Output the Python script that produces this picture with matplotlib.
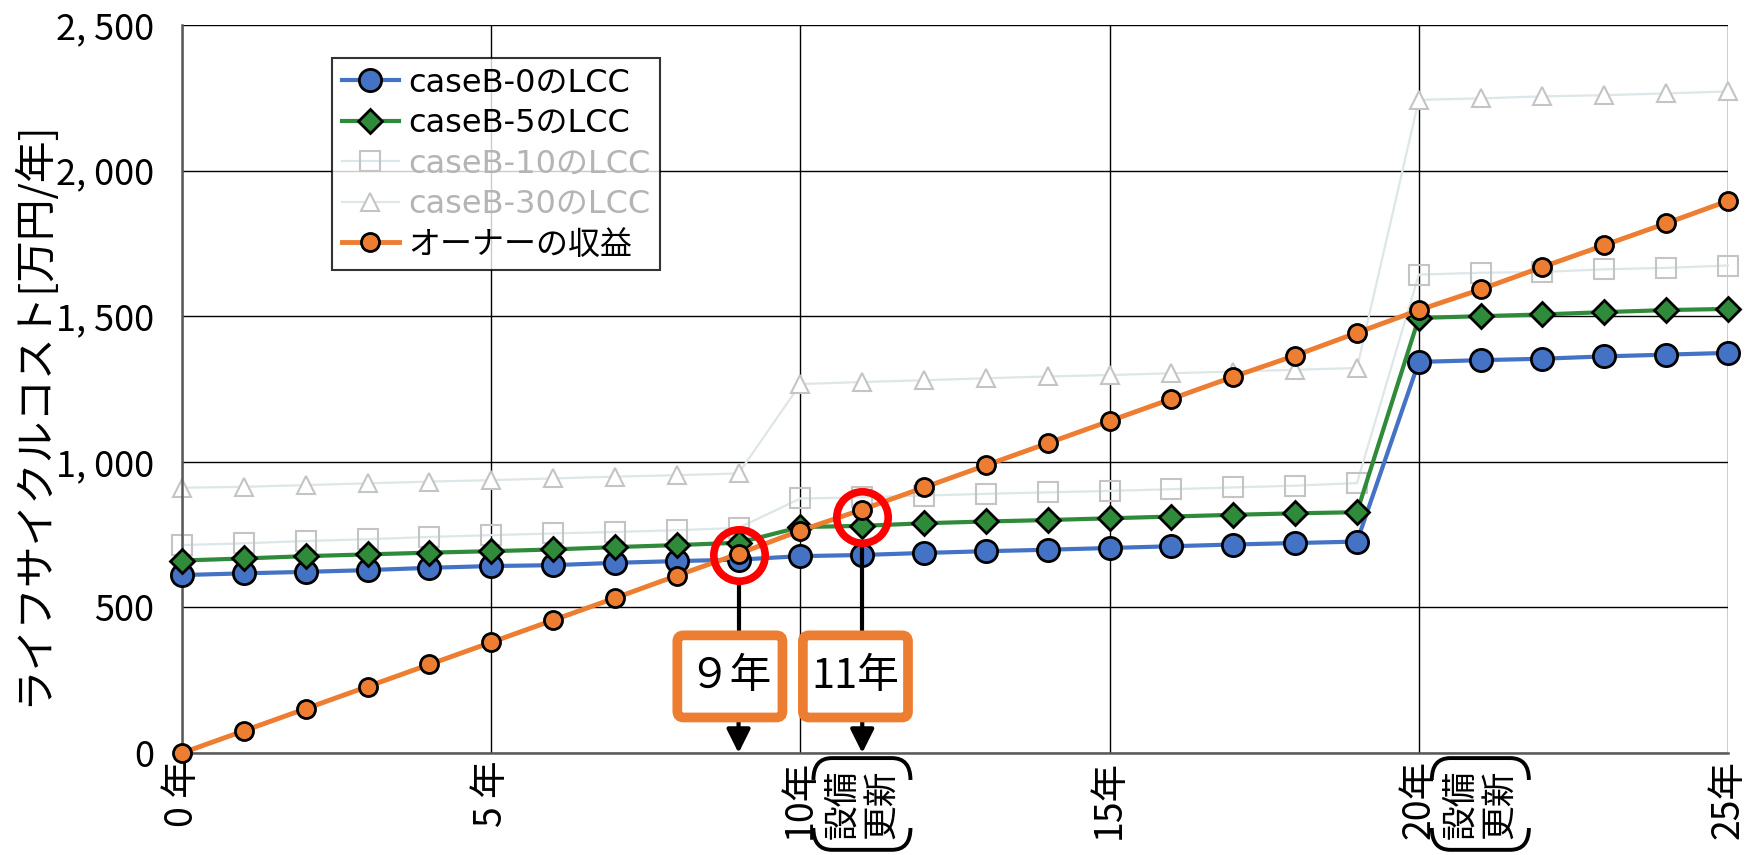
import numpy as np
import matplotlib
matplotlib.use("Agg")
import matplotlib.pyplot as plt
from matplotlib.path import Path
from matplotlib.patches import PathPatch, FancyBboxPatch

plt.rcParams['font.family'] = ['Noto Sans CJK JP', 'DejaVu Sans']

# data
years = list(range(26))
lcc_b0 = [611, 617, 622, 628, 636, 642, 645, 653, 659, 664,
          676, 680, 687, 693, 698, 704, 710, 716, 721, 726,
          1343, 1349, 1354, 1362, 1368, 1374]
lcc_b5 = [661, 668, 676, 682, 688, 693, 699, 707, 714, 722,
          776, 780, 789, 795, 800, 806, 812, 818, 823, 827,
          1494, 1500, 1506, 1514, 1521, 1525]
lcc_b10 = [714, 720, 728, 734, 742, 748, 754, 759, 765, 773,
           874, 878, 884, 890, 895, 900, 906, 912, 918, 927,
           1643, 1649, 1652, 1661, 1666, 1674]
lcc_b30 = [911, 914, 920, 926, 932, 937, 943, 949, 954, 960,
           1267, 1274, 1280, 1287, 1293, 1298, 1304, 1310, 1316, 1322,
           2243, 2248, 2255, 2259, 2265, 2272]
revenue = [0, 76, 152, 228, 304, 380, 456, 532, 609, 684,
           764, 836, 912, 988, 1064, 1140, 1216, 1292, 1365, 1443,
           1521, 1592, 1669, 1744, 1819, 1896]

xticks = [0, 5, 10, 15, 20, 25]
xtick_labels = ['0 年', '5 年', '10年', '15年', '20年', '25年']
yticks = [0, 500, 1000, 1500, 2000, 2500]
ytick_labels = ['0', '500', '1, 000', '1, 500', '2, 000', '2, 500']
renewal_years = [10, 20]

ring_years = [9, 11]
ring_values = [680, 810]
box_x = [8.86, 10.89]
box_labels = ['９年', '11年']

fig = plt.figure(figsize=(17.5, 8.55), dpi=100)
ax = fig.add_axes([182/1750, 1-753/855, 1546/1750, 728/855])

ax.plot(years, lcc_b30, color='#dde6e8', lw=1.6, marker='^', ms=13,
        mfc='white', mec='#c4c4c4', mew=1.5, zorder=2, clip_on=False, label='caseB-30のLCC')
ax.plot(years, lcc_b10, color='#dde6e8', lw=1.6, marker='s', ms=15,
        mfc='none', mec='#c4c4c4', mew=1.5, zorder=2, clip_on=False, label='caseB-10のLCC')
ax.plot(years, lcc_b0, color='#4472C4', lw=3, marker='o', ms=16,
        mfc='#4472C4', mec='black', mew=2, zorder=3, clip_on=False, label='caseB-0のLCC')
ax.plot(years, lcc_b5, color='#2f8a3a', lw=3, marker='D', ms=12,
        mfc='#2f8a3a', mec='black', mew=2, zorder=4, clip_on=False, label='caseB-5のLCC')
ax.plot(years, revenue, color='#ED7D31', lw=3.5, marker='o', ms=13,
        mfc='#ED7D31', mec='black', mew=2, zorder=5, clip_on=False, label='オーナーの収益')

ax.set_xlim(0, 25)
ax.set_ylim(0, 2500)
ax.set_xticks(xticks)
ax.set_xticklabels(xtick_labels, rotation=90, fontsize=27, va='top')
ax.set_yticks(yticks)
ax.set_yticklabels(ytick_labels, fontsize=26)
ax.tick_params(axis='both', length=0)
ax.tick_params(axis='y', pad=20)
ax.tick_params(axis='x', pad=5)
ax.grid(True, color='black', lw=1)
ax.set_axisbelow(True)
for s in ['top', 'right']:
    ax.spines[s].set_visible(False)
for s in ['left', 'bottom']:
    ax.spines[s].set_color('#595959')
    ax.spines[s].set_linewidth(1.8)

fig.text(33/1750, 1-413/855, 'ライフサイクルコスト[万円/年]', rotation=90,
         ha='center', va='center', fontsize=30)

# legend
h, l = ax.get_legend_handles_labels()
order = [2, 3, 1, 0, 4]
leg = ax.legend([h[i] for i in order], [l[i] for i in order],
                loc='upper left', bbox_to_anchor=(0.097, 0.955), borderaxespad=0,
                prop={'family': ['DejaVu Sans', 'Noto Sans CJK JP'], 'size': 23},
                frameon=True, fancybox=False, edgecolor='black',
                handlelength=1.8, handletextpad=0.3, labelspacing=0.3, borderpad=0.3)
leg.get_frame().set_linewidth(1.5)
leg.set_zorder(10)
for i, t in enumerate(leg.get_texts()):
    if i in (2, 3):
        t.set_color('#b4b4b4')

# red rings, connectors, boxes and arrows
box_w, box_h = 1.70, 282
for yr, val, bx, lab in zip(ring_years, ring_values, box_x, box_labels):
    ax.plot([yr], [val], 'o', ms=37, mfc='none', mec='red', mew=5.5, zorder=7)
    ax.plot([yr, yr], [val - 100, 419], color='black', lw=3, zorder=6)
    ax.add_patch(FancyBboxPatch((bx - box_w / 2, 263 - box_h / 2), box_w, box_h,
                                boxstyle='round,pad=0,rounding_size=0.1', mutation_aspect=212,
                                fc='white', ec='#ED7D31', lw=7, zorder=8))
    ax.text(bx, 263, lab, fontsize=30, ha='center', va='center', zorder=9)
    ax.annotate('', xy=(yr, 0), xytext=(yr, 106),
                arrowprops=dict(arrowstyle='-|>', lw=3, color='black',
                                mutation_scale=36, shrinkA=0, shrinkB=0), zorder=6)

# 設備更新 brackets below the axis
tr = ax.get_xaxis_transform()
for ry in renewal_years:
    x0, x1 = ry + 0.21, ry + 1.78
    yt, yb = -0.007, -0.133
    hh, rr = 0.03, 0.3
    top = Path([(x0, yt - hh), (x0, yt), (x0 + rr, yt), (x1 - rr, yt), (x1, yt), (x1, yt - hh)],
               [Path.MOVETO, Path.CURVE3, Path.CURVE3, Path.LINETO, Path.CURVE3, Path.CURVE3])
    bot = Path([(x0, yb + hh), (x0, yb), (x0 + rr, yb), (x1 - rr, yb), (x1, yb), (x1, yb + hh)],
               [Path.MOVETO, Path.CURVE3, Path.CURVE3, Path.LINETO, Path.CURVE3, Path.CURVE3])
    for p in (top, bot):
        ax.add_patch(PathPatch(p, transform=tr, fc='none', ec='black', lw=2.8, clip_on=False))
    ax.text((x0 + x1) / 2, (yt + yb) / 2, '設備\n更新', transform=tr, rotation=90,
            ha='center', va='center', fontsize=25, linespacing=1.15, clip_on=False)

fig.savefig('out.png', dpi=100)
